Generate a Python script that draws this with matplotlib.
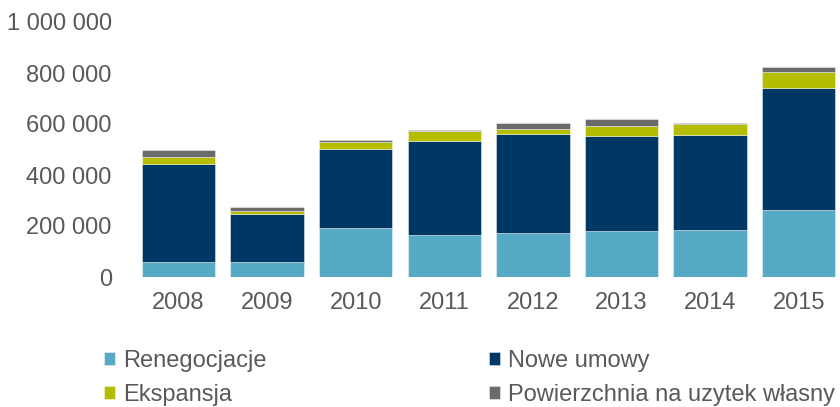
import matplotlib
matplotlib.use("Agg")
import matplotlib.pyplot as plt
import numpy as np

years = ["2008", "2009", "2010", "2011", "2012", "2013", "2014", "2015"]
renegocjacje = [59000, 59000, 191000, 165000, 171000, 180000, 185500, 264000]
nowe_umowy = [384000, 189000, 312000, 370000, 391000, 372000, 372500, 478500]
ekspansja = [28000, 12000, 28000, 37600, 20000, 40000, 41000, 62500]
powierzchnia = [26000, 14500, 5000, 4000, 21000, 29000, 5000, 18600]

series_names = ["Renegocjacje", "Nowe umowy", "Ekspansja", "Powierzchnia na uzytek własny"]
colors = ["#56AAC6", "#003865", "#B5BD00", "#6B6B6B"]
yticks = [0, 200000, 400000, 600000, 800000, 1000000]

text_color = "#595959"
plt.rcParams["font.family"] = ["Liberation Sans", "DejaVu Sans"]

W, H = 840, 407
fig = plt.figure(figsize=(W / 100, H / 100), dpi=100)
ax = fig.add_axes([134 / W, (H - 277) / H, (840 - 134) / W, (277 - 22) / H])

x = np.arange(len(years))
bottom = np.zeros(len(years))
handles = []
for vals, name, c in zip([renegocjacje, nowe_umowy, ekspansja, powierzchnia], series_names, colors):
    b = ax.bar(x, vals, width=0.83, bottom=bottom, color=c, label=name,
               edgecolor=(1, 1, 1, 0.5), linewidth=0.6)
    handles.append(b)
    bottom += np.array(vals)

ax.set_xlim(-0.502, 7.466)
ax.set_ylim(0, 1000000)
ax.set_yticks(yticks)
ax.set_yticklabels([f"{v:,}".replace(",", " ") for v in yticks])
ax.set_xticks(x)
ax.set_xticklabels(years)
for s in ax.spines.values():
    s.set_visible(False)
ax.tick_params(axis="both", length=0, labelsize=17, colors=text_color)
ax.tick_params(axis="y", pad=16)
ax.tick_params(axis="x", pad=10.5)

order = [0, 2, 1, 3]
leg = fig.legend([handles[i] for i in order], [series_names[i] for i in order],
                 ncol=2, loc="upper left", bbox_to_anchor=(104 / W, (H - 350) / H),
                 frameon=False, fontsize=17, handlelength=0.47, handleheight=0.47,
                 handletextpad=0.34, columnspacing=9.4, labelspacing=0.5,
                 borderpad=0, borderaxespad=0)
for t in leg.get_texts():
    t.set_color(text_color)

fig.savefig("out.png", dpi=100)
